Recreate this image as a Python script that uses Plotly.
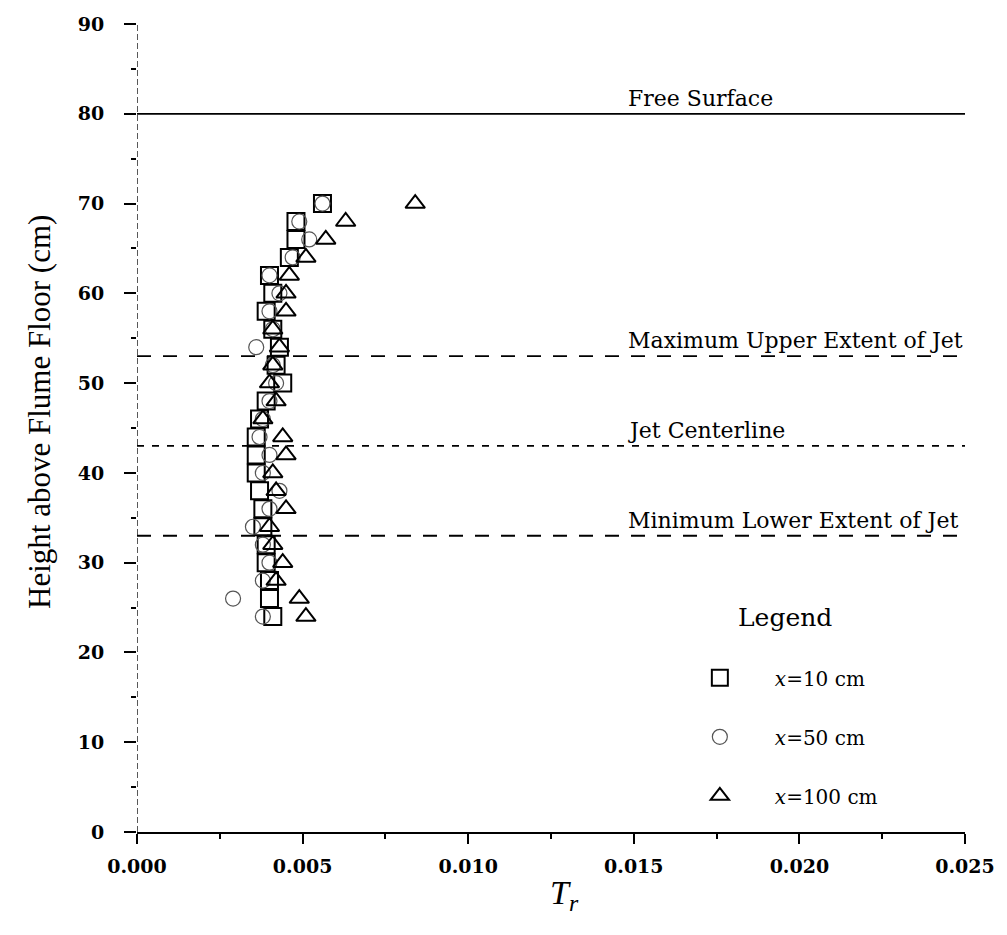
import plotly.graph_objects as go

heights = [70, 68, 66, 64, 62, 60, 58, 56, 54, 52, 50, 48, 46, 44, 42, 40, 38, 36, 34, 32, 30, 28, 26, 24]
tr_x10 = [0.0056, 0.0048, 0.0048, 0.0046, 0.0040, 0.0041, 0.0039, 0.0041, 0.0043, 0.0042, 0.0044, 0.0039,
          0.0037, 0.0036, 0.0036, 0.0036, 0.0037, 0.0038, 0.0038, 0.0039, 0.0039, 0.0040, 0.0040, 0.0041]
tr_x50 = [0.0056, 0.0049, 0.0052, 0.0047, 0.0040, 0.0043, 0.0040, 0.0041, 0.0036, 0.0041, 0.0042, 0.0040,
          0.0038, 0.0037, 0.0040, 0.0038, 0.0043, 0.0040, 0.0035, 0.0038, 0.0040, 0.0038, 0.0029, 0.0038]
tr_x100 = [0.0084, 0.0063, 0.0057, 0.0051, 0.0046, 0.0045, 0.0045, 0.0041, 0.0043, 0.0041, 0.0040, 0.0042,
           0.0038, 0.0044, 0.0045, 0.0041, 0.0042, 0.0045, 0.0040, 0.0041, 0.0044, 0.0042, 0.0049, 0.0051]

series_names = ["<i>x</i>=10 cm", "<i>x</i>=50 cm", "<i>x</i>=100 cm"]
ref_levels = [80, 53, 43, 33]
ref_labels = ["Free Surface", "Maximum Upper Extent of Jet", "Jet Centerline", "Minimum Lower Extent of Jet"]
ref_dash = ["solid", "14px,12px", "7px,8px", "14px,12px"]

x_ticks = [0.000, 0.005, 0.010, 0.015, 0.020, 0.025]
x_ticklabels = ["0.000", "0.005", "0.010", "0.015", "0.020", "0.025"]
y_ticks = [0, 10, 20, 30, 40, 50, 60, 70, 80, 90]

serif = "DejaVu Serif"

fig = go.Figure()
fig.add_trace(go.Scatter(x=tr_x10, y=heights, mode="markers", name=series_names[0], legendgroup="a",
                         marker=dict(symbol="square-open", size=17, color="black", line=dict(width=2, color="black"))))
fig.add_trace(go.Scatter(x=tr_x50, y=heights, mode="markers", name=series_names[1], legendgroup="b",
                         marker=dict(symbol="circle-open", size=15, color="#555", line=dict(width=1.2, color="#555"))))
fig.add_trace(go.Scatter(x=tr_x100, y=heights, mode="markers", name=series_names[2], legendgroup="c",
                         marker=dict(symbol="triangle-up-open", size=17, color="black", line=dict(width=2, color="black"))))

for lvl, lab, d in zip(ref_levels, ref_labels, ref_dash):
    fig.add_shape(type="line", xref="x", yref="y", x0=0, x1=0.025, y0=lvl, y1=lvl,
                  line=dict(color="black", width=1.8, dash=d))
    fig.add_annotation(x=0.01475, y=lvl, xref="x", yref="y", text=lab, showarrow=False,
                       xanchor="left", yanchor="bottom", yshift=1,
                       font=dict(family=serif, size=22, color="black"))

# broken-looking left axis
fig.add_shape(type="line", xref="x", yref="y", x0=0, x1=0, y0=0, y1=90,
              line=dict(color="#222", width=1.5, dash="6px,3px"))

fig.add_annotation(xref="paper", yref="paper", x=-0.117, y=0.52, text="Height above Flume Floor (cm)",
                   textangle=-90, showarrow=False, xanchor="center", yanchor="middle",
                   font=dict(family="Liberation Serif", size=31, color="black"))
fig.add_annotation(xref="paper", yref="paper", x=0.516, y=-0.078, text="<i>T<sub>r</sub></i>",
                   showarrow=False, xanchor="center", yanchor="middle",
                   font=dict(family="Liberation Serif", size=34, color="black"))
fig.add_annotation(xref="paper", yref="paper", x=0.783, y=0.265, text="Legend",
                   showarrow=False, xanchor="center", yanchor="middle",
                   font=dict(family=serif, size=25, color="black"))

fig.update_layout(
    width=1007, height=935,
    margin=dict(l=137, r=37, t=24, b=103),
    paper_bgcolor="white", plot_bgcolor="white",
    showlegend=True,
    legend=dict(x=0.6375, y=0.215, xanchor="left", yanchor="top",
                font=dict(family=serif, size=20, color="black"),
                traceorder="grouped", tracegroupgap=30, itemwidth=100,
                bgcolor="rgba(0,0,0,0)"),
    xaxis=dict(range=[0, 0.025], tickvals=x_ticks, ticktext=x_ticklabels,
               showgrid=False, zeroline=False, showline=True, linecolor="black", linewidth=2,
               ticks="outside", ticklen=10, tickwidth=1.5, tickcolor="black",
               minor=dict(dtick=0.0025, ticks="outside", ticklen=5, tickcolor="black"),
               tickfont=dict(family=serif, size=19, color="black", weight="bold"), ticklabelstandoff=6),
    yaxis=dict(range=[0, 90], tickvals=y_ticks,
               showgrid=False, zeroline=False, showline=False,
               ticks="outside", ticklen=12, tickwidth=1.5, tickcolor="black",
               minor=dict(dtick=5, ticks="outside", ticklen=5, tickcolor="black"),
               tickfont=dict(family=serif, size=19, color="black", weight="bold"), ticklabelstandoff=16),
)
fig.update_traces(cliponaxis=False)

fig.write_html("out.html")
